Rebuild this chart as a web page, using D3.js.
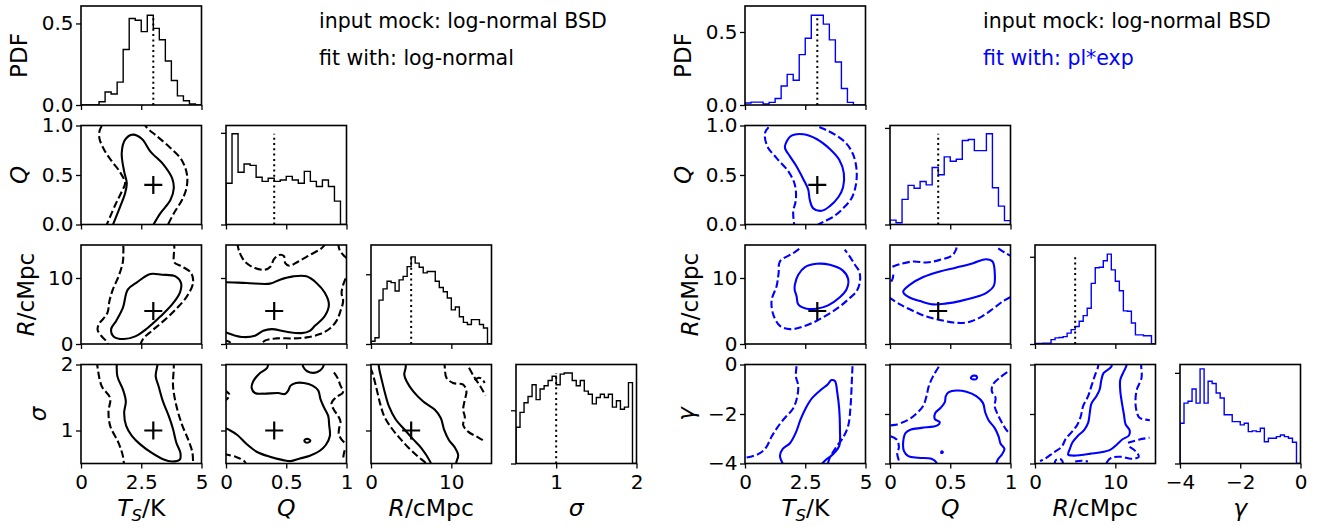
<!DOCTYPE html>
<html><head><meta charset="utf-8">
<script src="https://cdn.jsdelivr.net/npm/d3@7"></script>
<style>
body{margin:0;background:#fff}
svg{display:block}
text{font-family:"DejaVu Sans",sans-serif}
</style>
</head><body>
<svg id="c" width="1317" height="526"></svg>
<script>
// ---------------- DATA ----------------
const varsLeft = ["Ts","Q","R","sigma"];
const varsRight = ["Ts","Q","R","gamma"];
const domains = {Ts:[0,5], Q:[0,1], R:[0,15], sigma:[0.5,2], gamma:[-4,0]};
const tickVals = {Ts:[0,2.5,5], Q:[0,0.5,1], R:[0,10], sigma:[1,2], gamma:[-4,-2,0]};
const xTickLabels = {Ts:["0","2.5","5"], Q:["0","0.5","1"], R:["0","10"], sigma:["1","2"], gamma:["\u22124","\u22122","0"]};
const yTickLabels = {Q:["0.0","0.5","1.0"], R:["0","10"], sigma:["1","2"], gamma:["\u22124","\u22122","0"]};
const pdfTicks = [0,0.5];
const pdfTickLabels = ["0.0","0.5"];
const truthLeft = {Ts:3, Q:0.4, R:5, sigma:1};
const truthRight = {Ts:3, Q:0.4, R:5};
const titlesLeft = ["input mock: log-normal BSD","fit with: log-normal"];
const titlesRight = ["input mock: log-normal BSD","fit with: pl*exp"];

// histograms (PDF per bin), bins evenly spaced over the domain
const histTsLeft = [0,0,0,0.02,0.08,0.067,0.14,0.34,0.53,0.52,0.45,0.55,0.47,0.40,0.27,0.15,0.056,0.026,0.006,0];
const histQLeft = [0.90,1.98,1.14,1.32,1.29,1.03,0.94,1.01,0.94,0.97,1.05,0.97,0.90,1.16,0.94,0.83,0.97,0.83,0.51,0];
const histRLeft = [0.004,0.009,0.063,0.079,0.090,0.088,0.076,0.092,0.097,0.111,0.125,0.116,0.110,0.102,0.104,0.104,0.090,0.081,0.075,0.066,0.049,0.053,0.039,0.031,0.028,0.035,0.035,0.028,0.023,0];
const histSigmaLeft = [0.34,0.48,0.57,0.63,0.74,0.60,0.70,0.73,0.78,0.82,0.74,0.84,0.85,0.85,0.78,0.73,0.78,0.68,0.65,0.56,0.62,0.65,0.62,0.65,0.53,0.59,0.51,0.53,0.76,0];
const histTsRight = [0.014,0.02,0.02,0.007,0.018,0.045,0.13,0.21,0.17,0.345,0.457,0.615,0.615,0.554,0.446,0.295,0.113,0.018,0,0];
const histQRight = [0.09,0.035,0.52,0.81,0.75,0.89,0.82,1.18,1.03,1.40,1.31,1.35,1.74,1.76,1.53,1.53,1.88,0.76,0.38,0.08];
const histRRight = [0.001,0.001,0.002,0.002,0.010,0.014,0.015,0.017,0.025,0.033,0.040,0.052,0.065,0.082,0.139,0.175,0.176,0.191,0.206,0.170,0.144,0.122,0.076,0.075,0.048,0.021,0.021,0.019,0.019,0];
const histGammaRight = [0.222,0.333,0.343,0.411,0.333,0.522,0.333,0.454,0.441,0.389,0.361,0.269,0.269,0.231,0.231,0.213,0.222,0.176,0.180,0.176,0.194,0.120,0.139,0.139,0.148,0.157,0.148,0.139,0.117,0];
const histYMaxLeft = [0.607, 2.16, 0.142, 0.93];
const histYMaxRight = [0.678, 2.05, 0.227, 0.546];
const histTickLeft = [0.5, 2, 0.1, 0.5];
const histTickRight = [0.5, 2, 0.2, 0.5];

// contour lines (68% solid, 95% dashed), points in data units
const cL_TsQ_68 = [[1.28,-0.03],[1.625,0.18],[1.83,0.315],[1.90,0.417],[1.79,0.536],[1.69,0.722],[1.83,0.858],[2.15,0.908],[2.53,0.864],[2.875,0.739],[3.43,0.603],[3.78,0.468],[3.85,0.366],[3.71,0.247],[3.29,0.112],[2.94,-0.03]];
const cL_TsQ_95 = [[1.02,-0.03],[1.42,0.197],[1.69,0.332],[1.83,0.417],[1.60,0.536],[1.28,0.637],[0.96,0.756],[0.76,0.875],[0.79,0.96],[1.0,1.03],[1.8,1.1],[2.5,1.05],[2.74,0.976],[3.15,0.892],[3.71,0.773],[4.17,0.654],[4.40,0.502],[4.375,0.366],[4.19,0.247],[3.85,0.112],[3.55,-0.03]];
const cL_TsR_68 = [[2.875,10.6],[3.36,10.5],[3.92,10.25],[4.15,9.25],[4.10,7.75],[3.78,6.0],[3.29,4.15],[2.74,2.35],[2.25,1.15],[1.76,0.75],[1.35,1.15],[1.25,2.25],[1.46,3.5],[1.74,5.5],[1.94,8.25],[2.32,9.35]];
const cL_TsR_95 = [[2.46,-0.2],[2.57,0.75],[2.94,2.0],[3.43,3.5],[3.96,5.35],[4.40,7.25],[4.65,9.25],[4.57,10.75],[4.19,11.75],[3.875,12.35],[3.85,13.5],[3.875,14.5],[3.8,15.6],[2.8,16.5],[1.8,15.6],[1.76,14.25],[1.74,12.5],[1.56,10.25],[1.32,8.25],[1.18,6.5],[1.10,4.75],[0.93,3.85],[0.74,3.0],[0.69,2.15],[0.86,1.15],[1.07,0.35],[1.12,-0.2]];
const cL_QR_68 = [[-0.05,9.35],[0,9.35],[0.171,9.25],[0.365,9.15],[0.448,9.75],[0.558,10.25],[0.668,10.25],[0.751,9.25],[0.82,7.75],[0.854,6.0],[0.82,4.25],[0.738,2.75],[0.696,2.0],[0.627,1.65],[0.503,1.85],[0.378,2.25],[0.309,2.0],[0.24,1.25],[0.144,1.05],[0.061,1.35],[0,1.75],[-0.05,1.9]];
const cL_QR_95a = [[0.094,15.3],[0.11,14],[0.157,12.5],[0.24,11.5],[0.323,11.25],[0.37,11.75],[0.398,12.85],[0.442,13.5],[0.48,13.35],[0.492,12.25],[0.525,11.85],[0.6,12.5],[0.696,13.5],[0.793,14.5],[0.83,15.3]];
const cL_QR_95b = [[0.93,15.3],[0.945,14.15],[0.986,13.25],[1.03,12.5],[1.03,10.5],[1.005,10.25],[0.978,9.25],[0.959,7.75],[0.972,6.5],[0.95,5.0],[0.917,3.5],[0.862,2.35],[0.779,1.5],[0.668,1.0],[0.558,0.85],[0.42,0.85],[0.323,0.5],[0.282,-0.3]];
const cL_QR_95c = [[-0.02,0.55],[0.02,0.4],[0.035,0.2],[0.04,-0.3]];
const cL_TsS_68 = [[1.49,2.05],[1.51,1.82],[1.74,1.62],[1.86,1.44],[1.79,1.27],[1.875,1.07],[2.11,0.92],[2.46,0.79],[2.94,0.66],[3.43,0.56],[3.78,0.53],[4.10,0.56],[4.125,0.66],[3.96,0.81],[3.82,1.02],[3.64,1.22],[3.40,1.44],[3.22,1.67],[3.10,1.82],[3.15,1.95],[3.21,2.05]];
const cL_TsS_95a = [[0.66,2.05],[0.69,1.95],[0.86,1.67],[1.21,1.49],[1.14,1.29],[1.21,1.07],[1.56,0.81],[1.74,0.61],[1.79,0.45]];
const cL_TsS_95b = [[3.85,2.05],[3.85,1.95],[3.82,1.67],[3.96,1.37],[4.19,1.09],[4.47,0.84],[4.625,0.66],[4.65,0.45]];
const cL_QS_68a = [[0.35,2.05],[0.342,1.95],[0.276,1.86],[0.226,1.745],[0.213,1.644],[0.24,1.568],[0.309,1.558],[0.433,1.568],[0.489,1.553],[0.516,1.603],[0.536,1.68],[0.58,1.72],[0.646,1.72],[0.718,1.68],[0.765,1.608],[0.784,1.476],[0.812,1.354],[0.848,1.222],[0.856,1.085],[0.862,0.917],[0.828,0.78],[0.779,0.693],[0.696,0.617],[0.613,0.576],[0.536,0.536],[0.475,0.551],[0.364,0.602],[0.254,0.678],[0.171,0.795],[0.094,0.932],[0.028,1.008],[0,1.03],[-0.05,1.04]];
const cL_QS_68b = [[0.635,2.05],[0.641,1.964],[0.674,1.898],[0.729,1.873],[0.779,1.908],[0.806,1.964],[0.812,2.05]];
const cL_QS_68c = [[0.65,0.845],[0.665,0.87],[0.69,0.865],[0.70,0.845],[0.685,0.82],[0.66,0.82]];
const cL_QS_95a = [[-0.02,1.61],[0.003,1.593],[0.03,1.54],[0.008,1.476],[-0.02,1.46]];
const cL_QS_95b = [[-0.02,0.645],[0.005,0.637],[0.083,0.60],[0.121,0.571],[0.157,0.525],[0.175,0.45]];
const cL_QS_95c = [[0.895,1.88],[0.903,1.863],[0.93,1.78],[0.95,1.68],[0.972,1.6],[0.967,1.568],[0.917,1.507],[0.876,1.415],[0.895,1.314],[0.93,1.222],[0.95,1.136],[0.939,1.034],[0.936,0.947],[0.958,0.866],[0.986,0.815],[1.02,0.79]];
const cL_QS_95d = [[0.985,0.70],[0.975,0.62],[0.972,0.55]];
const cL_RS_68a = [[0.9,2.1],[1.0,1.95],[1.33,1.77],[1.74,1.568],[2.24,1.364],[3.06,1.171],[4.14,1.019],[5.26,0.866],[6.29,0.729],[7.33,0.536],[7.6,0.45]];
const cL_RS_68b = [[4.35,2.05],[4.31,1.95],[4.14,1.847],[4.43,1.746],[5.26,1.593],[6.50,1.44],[7.95,1.314],[8.70,1.186],[9.11,1.008],[9.69,0.856],[10.43,0.744],[10.85,0.627],[10.64,0.525],[10.5,0.45]];
const cL_RS_95a = [[-0.1,1.95],[0.17,1.873],[0.62,1.67],[1.12,1.415],[1.66,1.212],[2.57,1.034],[3.60,0.881],[4.64,0.744],[5.88,0.602],[6.79,0.51],[7.0,0.45]];
const cL_RS_95b = [[9.15,2.05],[9.19,1.95],[9.40,1.797],[10.22,1.72],[11.47,1.695],[11.88,1.593],[11.68,1.466],[11.47,1.314],[11.68,1.202],[11.47,1.085],[12.09,0.983],[13.33,0.897],[14.24,0.83]];
const cL_RS_95c = [[12.2,1.95],[12.8,1.82],[13.6,1.67],[14.25,1.53]];
const cL_RS_95d = [[12.9,1.76],[13.4,1.8],[13.8,1.78],[14.15,1.72]];

const cR_TsQ_68 = [[1.70,0.824],[1.93,0.898],[2.42,0.912],[2.97,0.864],[3.52,0.763],[3.91,0.654],[4.10,0.519],[4.07,0.376],[3.87,0.275],[3.52,0.186],[3.18,0.139],[2.83,0.163],[2.69,0.247],[2.62,0.356],[2.42,0.458],[2.14,0.586],[1.865,0.688],[1.66,0.773]];
const cR_TsQ_95 = [[2.07,-0.05],[2.0,0.129],[2.11,0.247],[2.07,0.40],[1.80,0.536],[1.31,0.671],[0.925,0.79],[0.83,0.925],[1.01,0.99],[1.4,1.06],[2.4,1.08],[3.04,0.99],[3.38,0.953],[3.80,0.898],[4.21,0.817],[4.49,0.705],[4.63,0.553],[4.60,0.40],[4.42,0.264],[4.07,0.163],[3.66,0.078],[3.25,0.027],[2.97,-0.01],[2.8,-0.05]];
const cR_TsR_68 = [[2.07,9.0],[2.21,10.5],[2.49,11.65],[2.97,12.15],[3.52,12.0],[4.05,11.15],[4.28,9.85],[4.21,8.25],[3.91,7.0],[3.45,5.85],[2.97,5.35],[2.56,5.35],[2.21,6.0],[2.14,7.25],[2.06,8.25]];
const cR_TsR_95 = [[2.25,14.4],[2.0,13.75],[1.45,12.5],[1.395,10.75],[1.31,8.75],[1.105,6.65],[1.17,4.5],[1.45,2.75],[1.865,2.25],[2.28,2.5],[2.83,3.25],[3.38,4.35],[3.87,5.5],[4.28,6.75],[4.63,8.0],[4.77,9.5],[4.74,11.0],[4.56,12.0],[4.35,13.25],[4.14,14.3]];
const cR_QR_68 = [[0.11,8.0],[0.166,9.0],[0.276,10.15],[0.414,11.0],[0.552,11.6],[0.69,12.25],[0.796,12.85],[0.851,12.5],[0.87,10.5],[0.862,8.85],[0.80,7.75],[0.69,7.0],[0.58,6.5],[0.47,6.15],[0.36,6.0],[0.249,6.5],[0.166,7.0],[0.116,7.65]];
const cR_QR_95a = [[0.02,11.7],[0.083,12.1],[0.193,12.5],[0.304,12.35],[0.414,12.75],[0.511,13.35],[0.547,14.25],[0.558,15.3]];
const cR_QR_95b = [[0.898,14.5],[0.953,13.85],[1.02,13.2]];
const cR_QR_95c = [[0.028,10.5],[0.019,9.75],[-0.01,9.0]];
const cR_QR_95d = [[-0.01,7.1],[0.083,6.0],[0.193,5.0],[0.304,4.15],[0.414,3.65],[0.525,3.25],[0.635,3.25],[0.746,4.0],[0.856,5.35],[0.939,6.5],[1.02,7.3]];
const cR_TsG_68 = [[1.62,-4.1],[1.45,-3.69],[1.56,-3.42],[1.865,-3.18],[2.11,-2.75],[2.31,-2.21],[2.53,-1.745],[2.80,-1.34],[3.18,-1.0],[3.43,-0.805],[3.59,-0.63],[3.73,-0.67],[3.83,-1.14],[3.91,-1.81],[3.94,-2.62],[3.91,-3.29],[3.66,-3.62],[3.38,-3.83],[3.11,-4.1]];
const cR_TsG_95a = [[2.14,-0.07],[2.11,-0.47],[2.21,-0.87],[2.14,-1.41],[1.975,-1.81],[1.66,-2.15],[1.34,-2.55],[1.105,-2.91],[0.87,-3.36],[0.62,-3.58],[0.276,-3.72],[0,-3.77],[-0.1,-3.78]];
const cR_TsG_95b = [[4.46,-0.07],[4.43,-0.74],[4.38,-1.68],[4.28,-2.48],[4.07,-2.95],[3.77,-3.36],[3.52,-3.76],[3.41,-4.1]];
const cR_QG_68a = [[0.386,-4.1],[0.386,-3.97],[0.344,-3.81],[0.234,-3.77],[0.152,-3.70],[0.116,-3.50],[0.110,-3.10],[0.13,-2.76],[0.174,-2.63],[0.262,-2.56],[0.394,-2.46],[0.413,-2.33],[0.372,-2.20],[0.377,-1.95],[0.421,-1.75],[0.455,-1.52],[0.463,-1.28],[0.488,-1.12],[0.551,-1.05],[0.634,-1.10],[0.716,-1.28],[0.771,-1.55],[0.79,-1.93],[0.818,-2.25],[0.868,-2.56],[0.901,-2.90],[0.917,-3.19],[0.95,-3.41],[0.928,-3.64],[0.895,-3.84],[0.876,-4.1]];
const cR_QG_68b = [[0.675,-0.5],[0.695,-0.45],[0.72,-0.48],[0.718,-0.58],[0.69,-0.6],[0.672,-0.56]];
const cR_QG_68c = [[0.425,-3.53],[0.435,-3.51],[0.438,-3.56],[0.427,-3.575]];
const cR_QG_95a = [[0.405,-0.09],[0.358,-0.47],[0.322,-0.875],[0.303,-1.28],[0.275,-1.68],[0.22,-1.98],[0.146,-2.25],[0.041,-2.44],[-0.01,-2.46]];
const cR_QG_95b = [[0.005,-2.90],[0.055,-3.03],[0.074,-3.33],[0.06,-3.6],[0.074,-3.9],[0.077,-4.1]];
const cR_QG_95c = [[0.973,-0.31],[0.909,-0.54],[0.854,-0.81],[0.845,-1.08],[0.876,-1.35],[0.868,-1.68],[0.901,-2.09],[0.937,-2.42],[0.973,-2.69],[1.02,-2.85]];
const cR_RG_68 = [[9.55,0.1],[9.50,-0.09],[8.55,-0.34],[8.26,-0.63],[8.05,-1.01],[7.64,-1.28],[7.02,-1.58],[6.82,-1.95],[6.61,-2.36],[6.11,-2.65],[5.37,-2.87],[4.67,-3.14],[4.34,-3.41],[4.13,-3.64],[4.75,-3.68],[6.82,-3.61],[9.29,-3.46],[10.2,-3.23],[10.86,-3.03],[11.69,-2.87],[11.77,-2.65],[11.28,-2.42],[11.07,-2.02],[10.82,-1.55],[10.62,-1.08],[10.62,-0.61],[11.07,-0.27],[11.36,-0.07],[11.4,0.1]];
const cR_RG_95a = [[7.9,0.1],[7.85,-0.09],[7.43,-0.47],[7.02,-0.875],[6.61,-1.28],[5.99,-1.68],[5.70,-2.09],[5.29,-2.42],[4.67,-2.69],[3.84,-3.0],[3.30,-3.33],[2.27,-3.57],[1.24,-3.81],[0.62,-3.9]];
const cR_RG_95b = [[13.2,0.1],[13.22,-0.07],[13.26,-0.54],[12.68,-1.01],[12.51,-1.41],[12.6,-1.82],[13.01,-2.15],[14.3,-2.25]];
const cR_RG_95c = [[11.57,-3.16],[13.01,-3.03],[14.25,-2.96]];
const cR_RG_95d = [[11.77,-3.33],[12.51,-3.50],[12.93,-3.73],[11.98,-3.81],[10.74,-3.73],[9.50,-3.77],[8.96,-3.95],[8.88,-4.1]];
const cR_RG_95e = [[2.4,-4.1],[2.6,-3.86],[3.1,-3.82],[3.4,-3.9],[3.5,-4.1]];
const cR_RG_95f = [[5.0,-3.92],[5.8,-3.89],[6.6,-3.92]];

// ---------------- TABLES built from the arrays ----------------
const contoursLeft = {
  "1-0":[{d:cL_TsQ_68},{d:cL_TsQ_95,dash:1}],
  "2-0":[{d:cL_TsR_68,closed:1},{d:cL_TsR_95,dash:1}],
  "2-1":[{d:cL_QR_68},{d:cL_QR_95a,dash:1},{d:cL_QR_95b,dash:1},{d:cL_QR_95c,dash:1}],
  "3-0":[{d:cL_TsS_68},{d:cL_TsS_95a,dash:1},{d:cL_TsS_95b,dash:1}],
  "3-1":[{d:cL_QS_68a},{d:cL_QS_68b},{d:cL_QS_68c,closed:1},{d:cL_QS_95a,dash:1},{d:cL_QS_95b,dash:1},{d:cL_QS_95c,dash:1},{d:cL_QS_95d,dash:1}],
  "3-2":[{d:cL_RS_68a},{d:cL_RS_68b},{d:cL_RS_95a,dash:1},{d:cL_RS_95b,dash:1},{d:cL_RS_95c,dash:1},{d:cL_RS_95d,dash:1}]
};
const contoursRight = {
  "1-0":[{d:cR_TsQ_68,closed:1},{d:cR_TsQ_95,dash:1}],
  "2-0":[{d:cR_TsR_68,closed:1},{d:cR_TsR_95,dash:1}],
  "2-1":[{d:cR_QR_68,closed:1},{d:cR_QR_95a,dash:1},{d:cR_QR_95b,dash:1},{d:cR_QR_95c,dash:1},{d:cR_QR_95d,dash:1}],
  "3-0":[{d:cR_TsG_68},{d:cR_TsG_95a,dash:1},{d:cR_TsG_95b,dash:1}],
  "3-1":[{d:cR_QG_68a},{d:cR_QG_68b,closed:1},{d:cR_QG_68c,closed:1},{d:cR_QG_95a,dash:1},{d:cR_QG_95b,dash:1},{d:cR_QG_95c,dash:1}],
  "3-2":[{d:cR_RG_68},{d:cR_RG_95a,dash:1},{d:cR_RG_95b,dash:1},{d:cR_RG_95c,dash:1},{d:cR_RG_95d,dash:1},{d:cR_RG_95e,dash:1},{d:cR_RG_95f,dash:1}]
};
const labelSpec = {
  Ts:[{t:"T",i:1},{t:"S",i:1,sub:1},{t:"/K",back:1}],
  Q:[{t:"Q",i:1}], R:[{t:"R",i:1},{t:"/cMpc"}],
  sigma:[{t:"\u03c3",i:1}], gamma:[{t:"\u03b3",i:1}]
};

const sides = [
  {offX:81, vars:varsLeft, hists:[histTsLeft,histQLeft,histRLeft,histSigmaLeft], ymax:histYMaxLeft, htick:histTickLeft,
   color:"#000000", truth:truthLeft, contours:contoursLeft, titles:titlesLeft, titleX:319, titleColors:["#000","#000"]},
  {offX:745, vars:varsRight, hists:[histTsRight,histQRight,histRRight,histGammaRight], ymax:histYMaxRight, htick:histTickRight,
   color:"#0000ff", truth:truthRight, contours:contoursRight, titles:titlesRight, titleX:983, titleColors:["#000","#0000ff"]}
];

// ---------------- DRAW ----------------
const svg = d3.select("#c");
const PW=120.5, PH=99, STEPX=145, STEPY=119.5, TOP=6;
const TICK=5, TFS=20, LFS=23, XLFS=23.5, CROSS=9;
let clipId=0;

function mathText(sel, segs, fs){
  segs.forEach(s=>{
    const t = sel.append("tspan").text(s.t);
    if(s.i) t.attr("font-style","italic");
    if(s.sub) t.attr("font-size", fs*0.7).attr("dy", fs*0.22);
    if(s.back) t.attr("dy", -fs*0.22);
  });
}
function styleAxis(g){
  g.attr("font-size",null).attr("font-family",null);
  g.select(".domain").remove();
  g.selectAll(".tick line").attr("stroke","#000").attr("stroke-width",1.3);
  g.selectAll(".tick text").attr("font-size",TFS).attr("fill","#000");
}

sides.forEach(side=>{
  const n = side.vars.length;
  for(let i=0;i<n;i++){
    for(let j=0;j<=i;j++){
      const x0 = side.offX + j*STEPX, y0 = TOP + i*STEPY;
      const vx = side.vars[j], vy = side.vars[i];
      const x = d3.scaleLinear().domain(domains[vx]).range([x0, x0+PW]);
      let y;
      if(i===j) y = d3.scaleLinear().domain([0, side.ymax[i]]).range([y0+PH, y0]);
      else y = d3.scaleLinear().domain(domains[vy]).range([y0+PH, y0]);
      const id = "cp"+(clipId++);
      svg.append("clipPath").attr("id",id).append("rect").attr("x",x0).attr("y",y0).attr("width",PW).attr("height",PH);
      const pg = svg.append("g").attr("clip-path",`url(#${id})`);

      if(i===j){
        const h = side.hists[i];
        const dom = domains[vx], nb = h.length;
        const edges = d3.range(nb+1).map(k=>dom[0] + (dom[1]-dom[0])*k/nb);
        const pts = [[edges[0],0]];
        h.forEach((v,k)=>{ pts.push([edges[k],v]); pts.push([edges[k+1],v]); });
        pts.push([edges[nb],0]);
        pg.append("path").attr("d", d3.line().x(d=>x(d[0])).y(d=>y(d[1]))(pts))
          .attr("fill","none").attr("stroke",side.color).attr("stroke-width",1.4).attr("stroke-linejoin","miter");
        if(side.truth[vx]!==undefined){
          const t = side.truth[vx];
          pg.append("line").attr("x1",x(t)).attr("x2",x(t)).attr("y1",y(0)).attr("y2",y(d3.max(h)))
            .attr("stroke","#000").attr("stroke-width",2).attr("stroke-dasharray","2,3.3");
        }
      } else {
        const cs = side.contours[i+"-"+j] || [];
        cs.forEach(c=>{
          const ln = d3.line().x(d=>x(d[0])).y(d=>y(d[1]))
            .curve(c.closed ? d3.curveCatmullRomClosed.alpha(0.5) : d3.curveCatmullRom.alpha(0.5));
          pg.append("path").attr("d", ln(c.d)).attr("fill","none").attr("stroke",side.color)
            .attr("stroke-width",2.1).attr("stroke-dasharray", c.dash ? "7.4,3.2" : null)
            .attr("stroke-linecap","butt");
        });
        if(side.truth[vx]!==undefined && side.truth[vy]!==undefined){
          const cx = x(side.truth[vx]), cy = y(side.truth[vy]);
          pg.append("path").attr("d",`M${cx-CROSS},${cy}H${cx+CROSS}M${cx},${cy-CROSS}V${cy+CROSS}`)
            .attr("stroke","#000").attr("stroke-width",2.2).attr("fill","none");
        }
      }
      // frame
      svg.append("rect").attr("x",x0).attr("y",y0).attr("width",PW).attr("height",PH)
        .attr("fill","none").attr("stroke","#000").attr("stroke-width",1.6);
      // x axis
      const xa = d3.axisBottom(x).tickValues(tickVals[vx]).tickSize(TICK).tickPadding(6)
        .tickFormat((d,k)=> i===n-1 ? xTickLabels[vx][k] : "");
      const gx = svg.append("g").attr("transform",`translate(0,${y0+PH})`).call(xa);
      styleAxis(gx);
      // y axis
      let yv, ylab;
      if(i===j){
        if(i===0){ yv = pdfTicks; ylab = pdfTickLabels; }
        else { yv = [0, side.htick[i]]; ylab = ["",""]; }
      } else { yv = tickVals[vy]; ylab = yTickLabels[vy]; }
      const ya = d3.axisLeft(y).tickValues(yv).tickSize(TICK).tickPadding(2.5)
        .tickFormat((d,k)=> j===0 ? ylab[k] : "");
      const gy = svg.append("g").attr("transform",`translate(${x0},0)`).call(ya);
      styleAxis(gy);
      // y label
      if(j===0){
        const bb = gy.node().getBBox();
        const bx = x0 + bb.x - 9 - 0.236*LFS;
        const cy = y0 + PH/2;
        const lt = svg.append("text").attr("transform",`translate(${bx},${cy}) rotate(-90)`)
          .attr("text-anchor","middle").attr("font-size",LFS).attr("fill","#000");
        if(i===0) lt.text("PDF");
        else mathText(lt, labelSpec[vy], LFS);
      }
      // x label
      if(i===n-1){
        const lt = svg.append("text").attr("x", x0+PW/2).attr("y", 515.5)
          .attr("text-anchor","middle").attr("font-size",XLFS).attr("fill","#000");
        mathText(lt, labelSpec[vx], XLFS);
      }
    }
  }
  side.titles.forEach((t,k)=>{
    svg.append("text").attr("x",side.titleX).attr("y",28 + k*37).attr("font-size",20.5)
      .attr("fill",side.titleColors[k]).text(t);
  });
});
</script>
</body></html>
